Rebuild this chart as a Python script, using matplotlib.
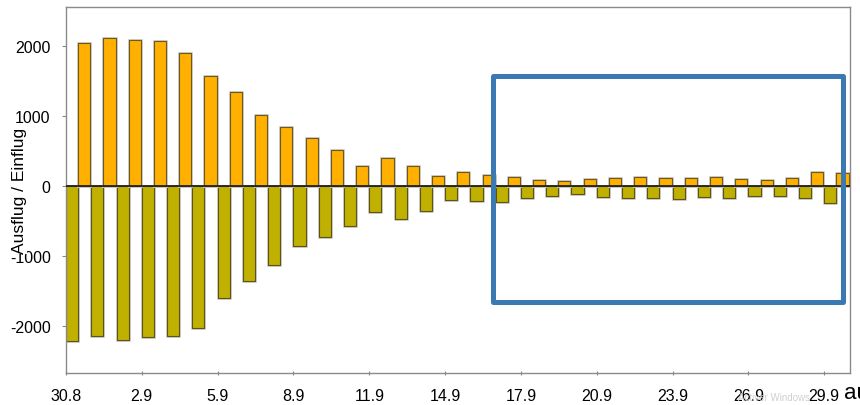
import matplotlib
matplotlib.use('Agg')
from matplotlib import pyplot as plt
from matplotlib import patheffects as pe
from matplotlib.patches import Rectangle

# days from 30.8 to 29.9 (31 values)
days = list(range(31))
tick_pos = [0, 3, 6, 9, 12, 15, 18, 21, 24, 27, 30]
tick_labels = ['30.8', '2.9', '5.9', '8.9', '11.9', '14.9', '17.9', '20.9', '23.9', '26.9', '29.9']

ausflug = [2043, 2119, 2086, 2071, 1909, 1571, 1351, 1023, 847, 686, 523,
           286, 404, 290, 151, 204, 166, 137, 90, 74, 104,
           123, 137, 119, 123, 137, 100, 86, 123, 209, 186]
einflug = [-2205, -2143, -2190, -2153, -2133, -2019, -1600, -1357, -1119, -858, -720,
           -562, -362, -467, -358, -200, -214, -219, -162, -143, -107,
           -148, -171, -171, -186, -157, -171, -143, -134, -171, -234]

plt.rcParams['font.family'] = ['Liberation Sans', 'DejaVu Sans']
plt.rcParams['axes.unicode_minus'] = False

fig = plt.figure(figsize=(8.6, 4.06), dpi=100)
ax = fig.add_axes([0.0767, 0.078, 0.9117, 0.9016])

w = 0.48
halo = [pe.withStroke(linewidth=2.0, foreground='#d0d0d0')]
b1 = ax.bar([d for d in days], einflug, width=w, align='edge',
            color='#c0b000', edgecolor='#5e5418', linewidth=0.8, zorder=2)
b2 = ax.bar([d + w for d in days], ausflug, width=w, align='edge',
            color='#ffb000', edgecolor='#6e5a20', linewidth=0.8, zorder=2)
for b in list(b1) + list(b2):
    b.set_path_effects(halo + [pe.Normal()])

ax.axhline(0, color='#222222', linewidth=1.3, zorder=3)

ax.set_xlim(0, 31.02)
ax.set_ylim(-2670, 2557)
ax.set_xticks(tick_pos)
ax.set_xticklabels(tick_labels)
ax.set_yticks([-2000, -1000, 0, 1000, 2000])
ax.tick_params(axis='both', labelsize=11.5, colors='#888888', labelcolor='black', length=3)
ax.tick_params(axis='x', direction='inout', pad=9)
ax.tick_params(axis='y', direction='out', pad=8)
for s in ax.spines.values():
    s.set_color('#8a8a8a')
    s.set_linewidth(1.0)

ax.set_ylabel('Ausflug / Einflug', fontsize=12.5,
              bbox=dict(facecolor='white', edgecolor='none', pad=0.5))
ax.yaxis.set_label_coords(-0.05, 0.5)

# highlight box
ax.add_patch(Rectangle((16.9, -1655), 13.85, 3230, fill=False, edgecolor='#3a79b2',
                       linewidth=3.6, joinstyle='round', clip_on=False, zorder=5))

fig.text(0.981, 0.005, 'au', fontsize=16, ha='left', va='bottom')
fig.text(0.90, 0.008, 'Activer Windows', fontsize=7, color='#d0d0d0', ha='center', va='bottom')

plt.savefig('out.png', dpi=100)
